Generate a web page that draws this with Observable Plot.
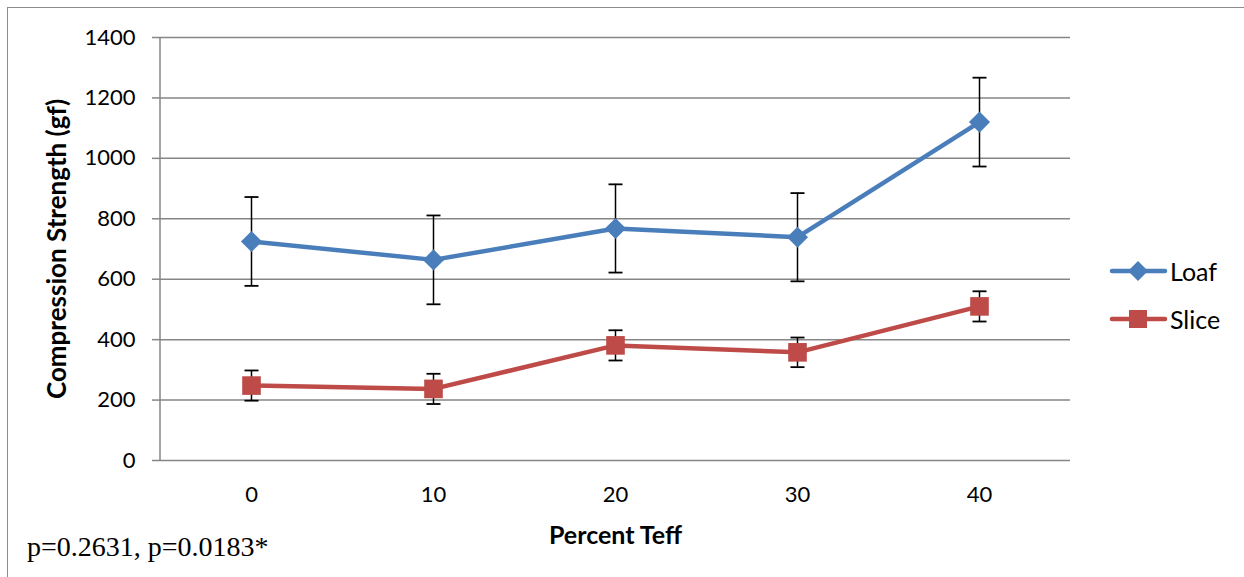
<!DOCTYPE html>
<html>
<head>
<meta charset="utf-8">
<script src="https://cdn.jsdelivr.net/npm/d3@7"></script>
<script src="https://cdn.jsdelivr.net/npm/@observablehq/plot@0.6"></script>
<style>
  html, body { margin: 0; padding: 0; background: #fff; }
  #wrap { position: relative; width: 1244px; height: 577px; overflow: hidden; font-family: Lato, "Open Sans", sans-serif; }
  #frame { position: absolute; left: 7px; top: 7px; width: 1300px; height: 640px; border: 1.5px solid #8c8c8c; box-sizing: border-box; }
  #chart { position: absolute; left: 0; top: 0; }
  #legend { position: absolute; left: 1108px; top: 257px; font-size: 25px; color: #000; }
  #legend .item { display: flex; align-items: center; height: 28px; margin-bottom: 20px; }
  #legend svg { margin-right: 2px; }
  #caption { position: absolute; left: 27px; top: 531px; font-family: "Liberation Serif", "Times New Roman", serif; font-size: 28px; line-height: 32px; color: #000; }
</style>
</head>
<body>
<div id="wrap">
  <div id="frame"></div>
  <div id="chart"></div>
  <div id="legend"></div>
  <div id="caption"></div>
</div>
<script>
const categories = ["0", "10", "20", "30", "40"];
const loafValues = [725, 664, 768, 739, 1120];
const loafErrors = [147, 147, 146, 146, 147];
const sliceValues = [248, 237, 381, 358, 510];
const sliceErrors = [50, 50, 50, 49, 50];
const seriesNames = ["Loaf", "Slice"];
const seriesColors = ["#4A7EBB", "#BE4B48"];
const yTicks = [0, 200, 400, 600, 800, 1000, 1200, 1400];
const xTitle = "Percent Teff";
const yTitle = "Compression Strength (gf)";
const captionText = "p=0.2631, p=0.0183*";

const rows = [];
categories.forEach((c, i) => {
  rows.push({series: "Loaf", x: c, y: loafValues[i], lo: loafValues[i] - loafErrors[i], hi: loafValues[i] + loafErrors[i]});
  rows.push({series: "Slice", x: c, y: sliceValues[i], lo: sliceValues[i] - sliceErrors[i], hi: sliceValues[i] + sliceErrors[i]});
});
const loaf = rows.filter(d => d.series === "Loaf");
const slice = rows.filter(d => d.series === "Slice");

// custom horizontal-cap symbol for error bars
const capSymbol = { draw(ctx, size) { const w = 7; ctx.moveTo(-w, 0); ctx.lineTo(w, 0); } };

// left axis line, drawn along the frame's left edge
const leftAxisLine = (index, scales, values, dims) => {
  const ns = "http://www.w3.org/2000/svg";
  const g = document.createElementNS(ns, "g");
  const l = document.createElementNS(ns, "line");
  const x = dims.marginLeft;
  l.setAttribute("x1", x); l.setAttribute("x2", x);
  l.setAttribute("y1", scales.y(1400)); l.setAttribute("y2", scales.y(0));
  l.setAttribute("stroke", "#868686"); l.setAttribute("stroke-width", 1.5);
  g.appendChild(l);
  return g;
};

const chart = Plot.plot({
  width: 1244,
  height: 577,
  marginLeft: 160,
  marginRight: 174,
  marginTop: 37,
  marginBottom: 117,
  style: { fontFamily: 'Lato, "Open Sans", sans-serif', fontSize: "22px", color: "#000", background: "transparent" },
  x: { type: "point", domain: categories, padding: 0.5, label: null },
  y: { domain: [0, 1400], ticks: yTicks, label: null },
  marks: [
    Plot.gridY(yTicks, { stroke: "#868686", strokeOpacity: 1, strokeWidth: 1.5 }),
    leftAxisLine,
    Plot.axisY(yTicks, { tickSize: 8, tickPadding: 17, stroke: "#868686", strokeWidth: 1.5, fontSize: 22, fill: "#000", tickFormat: d => String(d) }),
    Plot.axisX({ tickSize: 0, tickPadding: 26, fontSize: 22, fill: "#000" }),
    Plot.text([xTitle], { frameAnchor: "bottom", dy: 83, fontWeight: "bold", fontSize: 25, fill: "#000" }),
    Plot.text([yTitle], { frameAnchor: "left", dx: -103, rotate: -90, textAnchor: "middle", fontWeight: "bold", fontSize: 26, fill: "#000" }),
    Plot.line(loaf, { x: "x", y: "y", stroke: seriesColors[0], strokeWidth: 4.5 }),
    Plot.line(slice, { x: "x", y: "y", stroke: seriesColors[1], strokeWidth: 4.5 }),
    Plot.ruleX(rows, { x: "x", y1: "lo", y2: "hi", stroke: "#000", strokeWidth: 1.5 }),
    Plot.dot(rows, { x: "x", y: "lo", symbol: capSymbol, stroke: "#000", strokeWidth: 1.8 }),
    Plot.dot(rows, { x: "x", y: "hi", symbol: capSymbol, stroke: "#000", strokeWidth: 1.8 }),
    Plot.dot(loaf, { x: "x", y: "y", symbol: "diamond2", r: 9.5, fill: seriesColors[0], stroke: null }),
    Plot.dot(slice, { x: "x", y: "y", symbol: "square", r: 10.5, fill: seriesColors[1], stroke: null })
  ]
});
document.getElementById("chart").appendChild(chart);

// legend
const legend = document.getElementById("legend");
seriesNames.forEach((name, i) => {
  const item = document.createElement("div");
  item.className = "item";
  const marker = i === 0
    ? `<polygon points="30,4 40,14 30,24 20,14" fill="${seriesColors[i]}"/>`
    : `<rect x="21" y="5" width="18" height="18" fill="${seriesColors[i]}"/>`;
  item.innerHTML = `<svg width="60" height="28"><line x1="4" y1="14" x2="57" y2="14" stroke="${seriesColors[i]}" stroke-width="4.5" stroke-linecap="round"/>${marker}</svg><span>${name}</span>`;
  legend.appendChild(item);
});
document.getElementById("caption").textContent = captionText;
</script>
</body>
</html>
